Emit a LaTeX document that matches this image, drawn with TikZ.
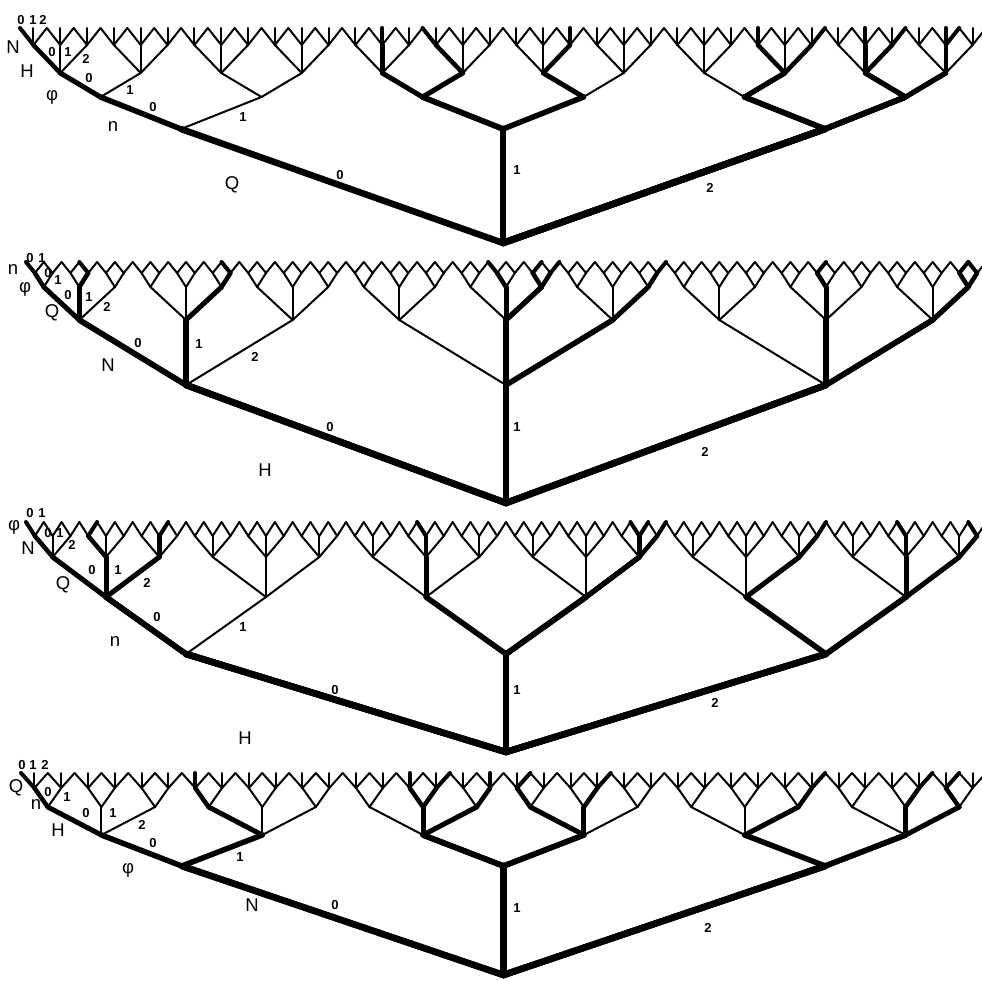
\documentclass[tikz,border=0pt]{standalone}
\usepackage{fontspec}
\setmainfont{Liberation Sans}
\newcount\tplev
\tikzset{
  edge/.style={line width=2pt, line cap=round},
  lvl/.style={font=\fontsize{18.5}{18.5}\selectfont, inner sep=0pt},
  elab/.style={font=\bfseries\fontsize{13}{13}\selectfont, inner sep=0pt},
}
\def\Rx{986}
\newcommand\drawtree[1]{%
  \pgfmathsetmacro\trM{\tA*\tB*\tC*\tD}%
  \pgfmathsetmacro\trsw{(\Rx-\Lx)/\trM}%
  \pgfmathsetmacro\trPA{\tB*\tC*\tD}%
  \pgfmathsetmacro\trPB{\tC*\tD}%
  \pgfmathsetmacro\trPC{\tD}%
  \pgfmathtruncatemacro\nA{\tA-1}%
  \pgfmathtruncatemacro\nB{\tB-1}%
  \pgfmathtruncatemacro\nC{\tC-1}%
  \pgfmathtruncatemacro\nD{\tD-1}%
  \pgfmathtruncatemacro\nE{\tE-1}%
  \coordinate (#1) at ({\Lx+\trsw*\trM/2},\yA);
  \foreach \va in {0,...,\nA}{%
    \pgfmathsetmacro\stA{\va*\trPA}%
    \coordinate (#1-\va) at ({\Lx+\trsw*(\stA+\trPA/2)},\yB);
    \draw[edge] (#1) -- (#1-\va);
    \foreach \vb in {0,...,\nB}{%
      \pgfmathsetmacro\stB{\stA+\vb*\trPB}%
      \coordinate (#1-\va-\vb) at ({\Lx+\trsw*(\stB+\trPB/2)},\yC);
      \draw[edge] (#1-\va) -- (#1-\va-\vb);
      \foreach \vc in {0,...,\nC}{%
        \pgfmathsetmacro\stC{\stB+\vc*\trPC}%
        \coordinate (#1-\va-\vb-\vc) at ({\Lx+\trsw*(\stC+\trPC/2)},\yD);
        \draw[edge] (#1-\va-\vb) -- (#1-\va-\vb-\vc);
        \foreach \vd in {0,...,\nD}{%
          \pgfmathsetmacro\stD{\stC+\vd}%
          \coordinate (#1-\va-\vb-\vc-\vd) at ({\Lx+\trsw*(\stD+0.5)},\yE);
          \draw[edge] (#1-\va-\vb-\vc) -- (#1-\va-\vb-\vc-\vd);
          \foreach \ve in {0,...,\nE}{%
            \coordinate (#1-\va-\vb-\vc-\vd-\ve) at ({\Lx+\trsw*(\stD+\ve/\nE)},\yF);
            \draw[edge] (#1-\va-\vb-\vc-\vd) -- (#1-\va-\vb-\vc-\vd-\ve);
          }}}}}}
\newcommand\thickpath[2]{%
  \xdef\tpprev{#1}\global\tplev=0
  \foreach \tpc in {#2}{%
    \global\advance\tplev by 1
    \xdef\tpcur{\tpprev-\tpc}%
    \edef\tpw{\ifcase\tplev\or 6.5\or 5.5\or 5\or 4.5\or 4\fi}%
    \draw[line width=\tpw pt, line cap=round] (\tpprev) -- (\tpcur);
    \xdef\tpprev{\tpcur}%
  }}
\begin{document}
\begin{tikzpicture}[x=1pt,y=-1pt]
\useasboundingbox (0,0) rectangle (982,980);
% ---------- tree 1 : Q n phi H N ----------
\def\Lx{20}
\def\tA{3}\def\tB{2}\def\tC{2}\def\tD{3}\def\tE{3}
\def\yA{243}\def\yB{129}\def\yC{97}\def\yD{73}\def\yE{45}\def\yF{28}
\drawtree{ta}
\thickpath{ta}{0,0,0,0,0}
\thickpath{ta}{1,0,0,1,1}
\thickpath{ta}{1,0,1,0,0}
\thickpath{ta}{1,1,0,2,1}
\thickpath{ta}{2,0,1,0,1}
\thickpath{ta}{2,0,1,2,2}
\thickpath{ta}{2,1,0,1,1}
\thickpath{ta}{2,1,0,2,2}
\thickpath{ta}{2,1,1,1,1}
\thickpath{ta}{2,1,1,1,2}
% ---------- tree 2 : H N Q phi n ----------
\def\Lx{26}
\def\tA{3}\def\tB{3}\def\tC{3}\def\tD{2}\def\tE{2}
\def\yA{503}\def\yB{385}\def\yC{320}\def\yD{287}\def\yE{273}\def\yF{262}
\drawtree{tb}
\thickpath{tb}{0,0,0,0,0}
\thickpath{tb}{1,1,1,0,0}
\thickpath{tb}{0,0,1,1,0}
\thickpath{tb}{2,1,1,0,1}
\thickpath{tb}{0,1,2,1,0}
\thickpath{tb}{2,2,2,1,0}
\thickpath{tb}{1,1,2,0,1}
\thickpath{tb}{2,2,2,0,1}
\thickpath{tb}{1,1,2,1,1}
\thickpath{tb}{1,2,2,1,1}
% ---------- tree 3 : H n Q N phi ----------
\def\Lx{26}
\def\tA{3}\def\tB{2}\def\tC{3}\def\tD{3}\def\tE{2}
\def\yA{752}\def\yB{654}\def\yC{597}\def\yD{557}\def\yE{536}\def\yF{522}
\drawtree{tc}
\thickpath{tc}{0,0,0,0,0}
\thickpath{tc}{1,0,1,1,0}
\thickpath{tc}{0,0,1,0,1}
\thickpath{tc}{2,1,1,1,0}
\thickpath{tc}{0,0,2,1,1}
\thickpath{tc}{2,0,2,2,1}
\thickpath{tc}{1,1,2,1,0}
\thickpath{tc}{2,1,2,2,0}
\thickpath{tc}{1,1,2,1,1}
\thickpath{tc}{1,1,2,2,1}
% ---------- tree 4 : N phi H n Q ----------
\def\Lx{21}
\def\tA{3}\def\tB{2}\def\tC{3}\def\tD{2}\def\tE{3}
\def\yA{975}\def\yB{866}\def\yC{835}\def\yD{807}\def\yE{788}\def\yF{773}
\drawtree{td}
\thickpath{td}{0,0,0,0,0}
\thickpath{td}{1,0,1,0,1}
\thickpath{td}{0,1,0,0,1}
\thickpath{td}{1,0,2,1,1}
\thickpath{td}{1,1,0,0,2}
\thickpath{td}{2,1,2,0,2}
\thickpath{td}{1,0,1,1,2}
\thickpath{td}{2,0,2,1,2}
\thickpath{td}{1,1,1,1,2}
\thickpath{td}{2,1,1,1,2}
% ---------- labels tree 1 ----------
\node[lvl] (aN) at (13,47) {N};
\node[lvl] (aH) at (27,71) {H};
\node[lvl] (aP) at (52,97) {φ};
\node[lvl] (an) at (113,127) {n};
\node[lvl] (aQ) at (232,185) {Q};
\node[elab] (a50) at (21,20) {0};
\node[elab] (a51) at (33,20) {1};
\node[elab] (a52) at (43,20) {2};
\node[elab] (a40) at (52,52) {0};
\node[elab] (a41) at (68,52) {1};
\node[elab] (a42) at (86,59) {2};
\node[elab] (a30) at (89,78) {0};
\node[elab] (a31) at (130,90) {1};
\node[elab] (a20) at (153,107) {0};
\node[elab] (a21) at (243,117) {1};
\node[elab] (a10) at (340,175) {0};
\node[elab] (a11) at (517,170) {1};
\node[elab] (a12) at (710,188) {2};
% ---------- labels tree 2 ----------
\node[lvl] (bn) at (13,270) {n};
\node[lvl] (bP) at (25,289) {φ};
\node[lvl] (bQ) at (52,313) {Q};
\node[lvl] (bN) at (108,365) {N};
\node[lvl] (bH) at (265,470) {H};
\node[elab] (b50) at (30,258) {0};
\node[elab] (b51) at (42,258) {1};
\node[elab] (b40) at (48,273) {0};
\node[elab] (b41) at (58,280) {1};
\node[elab] (b30) at (68,295) {0};
\node[elab] (b31) at (89,297) {1};
\node[elab] (b32) at (107,307) {2};
\node[elab] (b20) at (138,343) {0};
\node[elab] (b21) at (199,344) {1};
\node[elab] (b22) at (255,357) {2};
\node[elab] (b10) at (330,427) {0};
\node[elab] (b11) at (517,427) {1};
\node[elab] (b12) at (705,452) {2};
% ---------- labels tree 3 ----------
\node[lvl] (cP) at (14,527) {φ};
\node[lvl] (cN) at (28,548) {N};
\node[lvl] (cQ) at (63,585) {Q};
\node[lvl] (cn) at (115,642) {n};
\node[lvl] (cH) at (245,738) {H};
\node[elab] (c50) at (30,513) {0};
\node[elab] (c51) at (42,513) {1};
\node[elab] (c40) at (48,533) {0};
\node[elab] (c41) at (60,533) {1};
\node[elab] (c42) at (72,545) {2};
\node[elab] (c30) at (92,570) {0};
\node[elab] (c31) at (118,570) {1};
\node[elab] (c32) at (147,583) {2};
\node[elab] (c20) at (157,617) {0};
\node[elab] (c21) at (243,627) {1};
\node[elab] (c10) at (335,690) {0};
\node[elab] (c11) at (517,690) {1};
\node[elab] (c12) at (715,703) {2};
% ---------- labels tree 4 ----------
\node[lvl] (dQ) at (16,788) {Q};
\node[lvl] (dn) at (36,805) {n};
\node[lvl] (dH) at (58,830) {H};
\node[lvl] (dP) at (128,870) {φ};
\node[lvl] (dN) at (252,905) {N};
\node[elab] (d50) at (22,765) {0};
\node[elab] (d51) at (33,765) {1};
\node[elab] (d52) at (45,765) {2};
\node[elab] (d40) at (48,792) {0};
\node[elab] (d41) at (67,797) {1};
\node[elab] (d30) at (86,813) {0};
\node[elab] (d31) at (113,813) {1};
\node[elab] (d32) at (142,825) {2};
\node[elab] (d20) at (153,843) {0};
\node[elab] (d21) at (240,857) {1};
\node[elab] (d10) at (335,905) {0};
\node[elab] (d11) at (517,908) {1};
\node[elab] (d12) at (708,928) {2};
\end{tikzpicture}
\end{document}
